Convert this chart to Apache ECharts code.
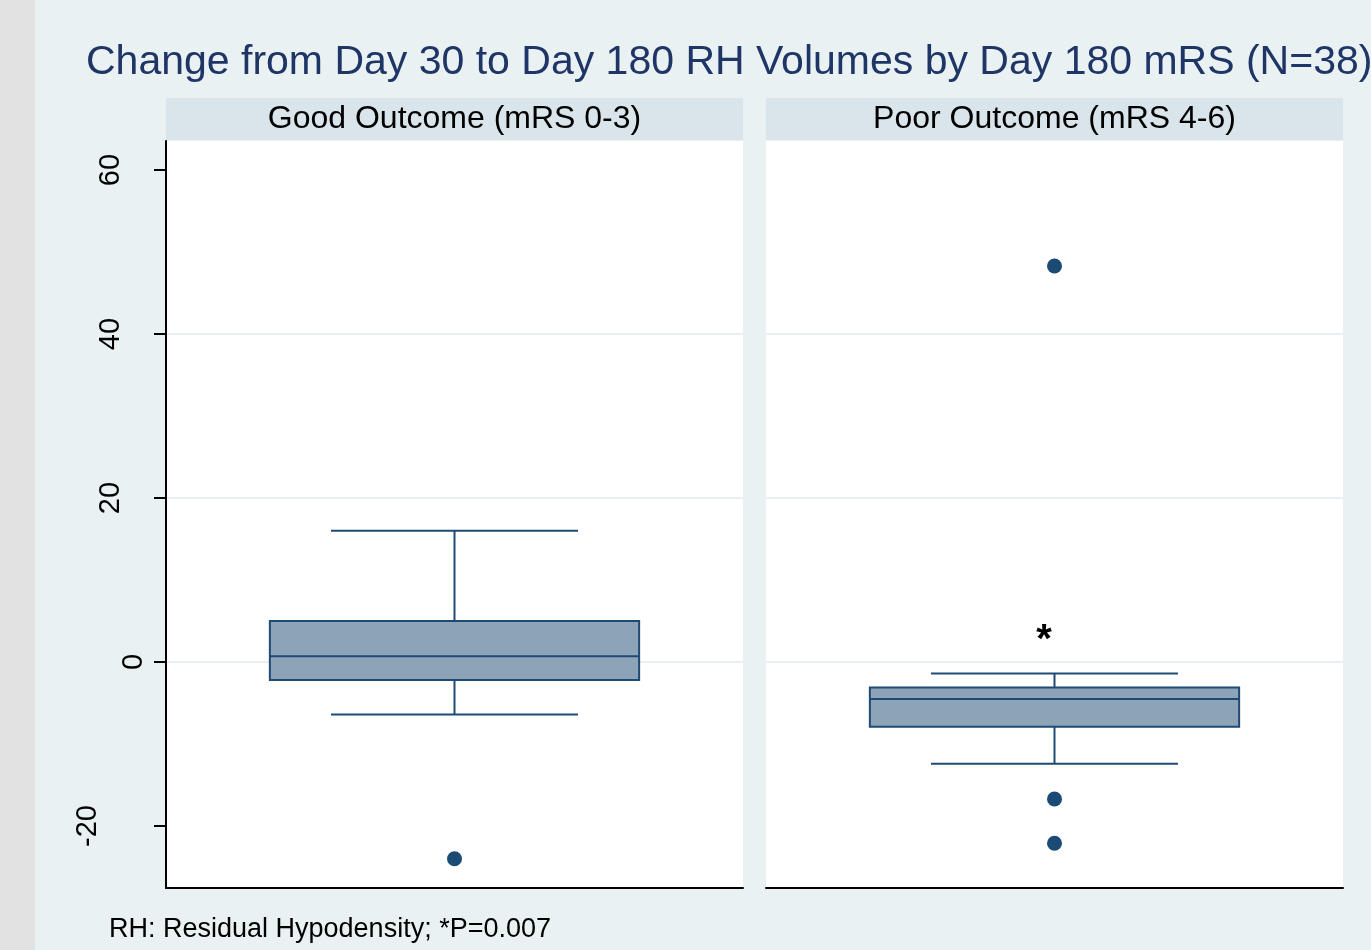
<!DOCTYPE html>
<html>
<head>
<meta charset="utf-8">
<script src="https://cdn.jsdelivr.net/npm/echarts@6/dist/echarts.min.js"></script>
<style>
  html, body { margin: 0; padding: 0; background: #e9f1f3; }
  #chart { width: 1371px; height: 950px; }
</style>
</head>
<body>
<div id="chart"></div>
<script>
// panels (one box per outcome group)
const panels = ['Good Outcome (mRS 0-3)', 'Poor Outcome (mRS 4-6)']

// box plot summary values, change in RH volume
const lowerWhisker = [-6.4, -12.4]
const q1 = [-2.2, -7.9]
const median = [0.7, -4.5]
const q3 = [5.0, -3.1]
const upperWhisker = [16.0, -1.4]
const outliers = [[-24.0], [48.3, -16.7, -22.1]]

const yTicks = [-20, 0, 20, 40, 60]
// stata places the rotated labels unevenly, so they go in three groups
const labelGroups = [[20, 40, 60], [0], [-20]]
const labelMargins = [41, 18, 64]

const chart = echarts.init(document.getElementById('chart'))

const boxColor = '#8da3b8'
const lineColor = '#1f4a74'
const gridCols = [166, 766]
const yMin = -27.56
const yMax = 63.54
const labelFont = 'Liberation Sans, Arial, sans-serif'

function renderBox(params, api) {
  const x = api.value(0)
  const band = api.size([1, 0])[0]
  const half = band * 0.32
  const capHalf = band * 0.214
  const lo = api.coord([x, api.value(1)])
  const b1 = api.coord([x, api.value(2)])
  const md = api.coord([x, api.value(3)])
  const b3 = api.coord([x, api.value(4)])
  const hi = api.coord([x, api.value(5)])
  const cx = lo[0]
  const line = { stroke: lineColor, lineWidth: 2 }
  return {
    type: 'group',
    children: [
      { type: 'line', shape: { x1: cx, y1: hi[1], x2: cx, y2: b3[1] }, style: line },
      { type: 'line', shape: { x1: cx, y1: b1[1], x2: cx, y2: lo[1] }, style: line },
      { type: 'line', shape: { x1: cx - capHalf, y1: hi[1], x2: cx + capHalf, y2: hi[1] }, style: line },
      { type: 'line', shape: { x1: cx - capHalf, y1: lo[1], x2: cx + capHalf, y2: lo[1] }, style: line },
      {
        type: 'rect',
        shape: { x: cx - half, y: b3[1], width: half * 2, height: b1[1] - b3[1] },
        style: { fill: boxColor, stroke: lineColor, lineWidth: 2 }
      },
      { type: 'line', shape: { x1: cx - half, y1: md[1], x2: cx + half, y2: md[1] }, style: line }
    ]
  }
}

const grids = gridCols.map(left => ({
  left: left, top: 141, width: 577, height: 747,
  show: true, backgroundColor: '#ffffff', borderWidth: 0
}))

const xAxes = panels.map((p, i) => ({
  type: 'category',
  gridIndex: i,
  data: [p],
  axisLine: { show: true, onZero: false, lineStyle: { color: '#000', width: 2 } },
  axisTick: { show: false },
  axisLabel: { show: false },
  splitLine: { show: false }
}))

const yAxes = panels.map((p, i) => ({
  type: 'value',
  gridIndex: i,
  position: 'left',
  min: yMin,
  max: yMax,
  axisLine: { show: i === 0, onZero: false, lineStyle: { color: '#000', width: 2 } },
  axisTick: { show: i === 0, length: 12, customValues: yTicks, lineStyle: { color: '#000', width: 2 } },
  axisLabel: {
    show: i === 0, customValues: labelGroups[0], rotate: 90, margin: labelMargins[0],
    fontSize: 29, color: '#000', fontFamily: labelFont
  },
  splitLine: { show: true, showMinLine: false, showMaxLine: false, lineStyle: { color: '#e8f0f3', width: 2 } }
}))

// extra label-only axes on the left panel
labelGroups.slice(1).forEach((vals, k) => {
  yAxes.push({
    type: 'value',
    gridIndex: 0,
    position: 'left',
    offset: 0,
    min: yMin,
    max: yMax,
    axisLine: { show: false },
    axisTick: { show: false, customValues: vals },
    splitLine: { show: false },
    axisLabel: {
      show: true, customValues: vals, rotate: 90, margin: labelMargins[k + 1],
      fontSize: 29, color: '#000', fontFamily: labelFont
    }
  })
})

const series = []
panels.forEach((p, i) => {
  series.push({
    type: 'custom',
    xAxisIndex: i,
    yAxisIndex: i,
    renderItem: renderBox,
    data: [[0, lowerWhisker[i], q1[i], median[i], q3[i], upperWhisker[i]]],
    z: 3
  })
  series.push({
    type: 'scatter',
    xAxisIndex: i,
    yAxisIndex: i,
    symbol: 'circle',
    symbolSize: 15,
    itemStyle: { color: '#1b4a74', opacity: 1 },
    data: outliers[i].map(v => [0, v]),
    z: 4
  })
})

const graphics = [
  { type: 'rect', shape: { x: 0, y: 0, width: 35, height: 950 }, style: { fill: '#e2e2e2' }, z: -1 },
  {
    type: 'text', x: 86, y: 63,
    style: {
      text: 'Change from Day 30 to Day 180 RH Volumes by Day 180 mRS (N=38)',
      fill: '#1f3566', font: '41px "Liberation Sans", Arial, sans-serif',
      textAlign: 'left', textVerticalAlign: 'middle'
    }
  },
  {
    type: 'text', x: 109, y: 930,
    style: {
      text: 'RH: Residual Hypodensity; *P=0.007',
      fill: '#000', font: '27px "Liberation Sans", Arial, sans-serif',
      textAlign: 'left', textVerticalAlign: 'middle'
    }
  },
  {
    type: 'text', x: 1044, y: 641,
    style: {
      text: '*', fill: '#000', font: 'bold 40px "Liberation Sans", Arial, sans-serif',
      textAlign: 'center', textVerticalAlign: 'middle'
    }
  }
]
gridCols.forEach((left, i) => {
  graphics.push({
    type: 'rect', shape: { x: left, y: 98, width: 577, height: 42 },
    style: { fill: '#d9e5eb' }
  })
  graphics.push({
    type: 'text', x: left + 288.5, y: 119,
    style: {
      text: panels[i], fill: '#000', font: '32px "Liberation Sans", Arial, sans-serif',
      textAlign: 'center', textVerticalAlign: 'middle'
    }
  })
})

chart.setOption({
  backgroundColor: '#e9f1f3',
  animation: false,
  grid: grids,
  xAxis: xAxes,
  yAxis: yAxes,
  series: series,
  graphic: graphics
})
</script>
</body>
</html>
